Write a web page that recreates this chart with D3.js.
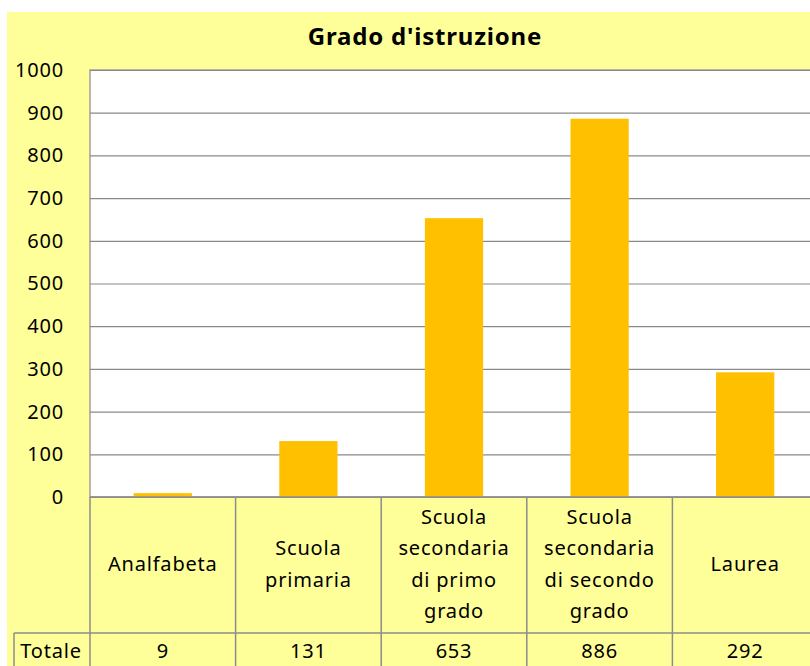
<!DOCTYPE html>
<html>
<head>
<meta charset="utf-8">
<script src="https://d3js.org/d3.v7.min.js"></script>
<style>
  body { margin: 0; background: #fff; }
  text { font-family: "Noto Sans", "Open Sans", sans-serif; fill: #000; letter-spacing: 0.8px; }
</style>
</head>
<body>
<div id="chart"></div>
<script>
// data
var categories = ["Analfabeta", "Scuola primaria", "Scuola secondaria di primo grado", "Scuola secondaria di secondo grado", "Laurea"];
var catLines = [["Analfabeta"], ["Scuola", "primaria"], ["Scuola", "secondaria", "di primo", "grado"], ["Scuola", "secondaria", "di secondo", "grado"], ["Laurea"]];
var totals = [9, 131, 653, 886, 292];
var yTicks = [0, 100, 200, 300, 400, 500, 600, 700, 800, 900, 1000];
var title = "Grado d'istruzione";
var rowLabel = "Totale";

var W = 810, H = 666;
var plot = { left: 90, right: 818, top: 70, bottom: 497 };
var tableBottom = 633;
var fontFam = "'Noto Sans', sans-serif";

var svg = d3.select("#chart").append("svg")
    .attr("width", W)
    .attr("height", H);

// yellow chart area
svg.append("rect")
    .attr("x", 7).attr("y", 12)
    .attr("width", W - 7).attr("height", H - 12)
    .attr("fill", "#ffff99");

svg.append("text")
    .attr("x", 425).attr("y", 37)
    .attr("dy", "0.35em")
    .attr("text-anchor", "middle")
    .style("font-size", "24px")
    .style("font-weight", "bold")
    .style("letter-spacing", "0.8px")
    .text(title);

var x = d3.scaleBand()
    .domain(categories)
    .range([plot.left, plot.right])
    .paddingInner(0)
    .paddingOuter(0);

var y = d3.scaleLinear()
    .domain([0, 1000])
    .range([plot.bottom, plot.top]);

// plot area
svg.append("rect")
    .attr("x", plot.left).attr("y", plot.top)
    .attr("width", plot.right - plot.left).attr("height", plot.bottom - plot.top)
    .attr("fill", "#fff")
    .attr("stroke", "#a0a0a0")
    .attr("stroke-width", 1.5);

// gridlines + tick labels
var yAxis = d3.axisLeft(y)
    .tickValues(yTicks)
    .tickFormat(d3.format("d"))
    .tickSize(-(plot.right - plot.left))
    .tickPadding(26);

var gy = svg.append("g")
    .attr("transform", "translate(" + plot.left + ",0)")
    .call(yAxis);
gy.select(".domain").remove();
gy.selectAll(".tick line").attr("stroke", "#8a8a8a").attr("stroke-width", 1.2);
gy.selectAll(".tick text")
    .style("font-size", "20px")
    .style("font-family", fontFam)
    .attr("fill", "#000");

// bars
var barW = x.bandwidth() * 0.4;
svg.selectAll("rect.bar")
    .data(totals)
    .enter().append("rect")
    .attr("class", "bar")
    .attr("x", function(d, i) { return x(categories[i]) + (x.bandwidth() - barW) / 2; })
    .attr("y", function(d) { return y(d); })
    .attr("width", barW)
    .attr("height", function(d) { return y(0) - y(d); })
    .attr("fill", "#ffc000");

// data table
var grid = svg.append("g").attr("stroke", "#8c8c8c").attr("stroke-width", 1.5);
grid.append("line")
    .attr("x1", plot.left).attr("x2", W)
    .attr("y1", plot.bottom).attr("y2", plot.bottom);
grid.append("line")
    .attr("x1", 14).attr("x2", W)
    .attr("y1", tableBottom).attr("y2", tableBottom);
grid.append("line")
    .attr("x1", 14).attr("x2", 14)
    .attr("y1", tableBottom).attr("y2", H);
categories.forEach(function(c) {
    grid.append("line")
        .attr("x1", x(c)).attr("x2", x(c))
        .attr("y1", plot.bottom).attr("y2", H);
});

var lineH = 31.5;
categories.forEach(function(c, i) {
    var lines = catLines[i];
    var cy = (plot.bottom + tableBottom) / 2 - 1;
    var y0 = cy - (lines.length - 1) * lineH / 2;
    var t = svg.append("text")
        .attr("text-anchor", "middle")
        .style("font-size", "20px");
    lines.forEach(function(l, j) {
        t.append("tspan")
            .attr("x", x(c) + x.bandwidth() / 2)
            .attr("y", y0 + j * lineH)
            .attr("dy", "0.35em")
            .text(l);
    });
    svg.append("text")
        .attr("x", x(c) + x.bandwidth() / 2)
        .attr("y", 651)
        .attr("dy", "0.35em")
        .attr("text-anchor", "middle")
        .style("font-size", "20px")
        .text(totals[i]);
});

svg.append("text")
    .attr("x", 51).attr("y", 651)
    .attr("dy", "0.35em")
    .attr("text-anchor", "middle")
    .style("font-size", "20px")
    .text(rowLabel);
</script>
</body>
</html>
